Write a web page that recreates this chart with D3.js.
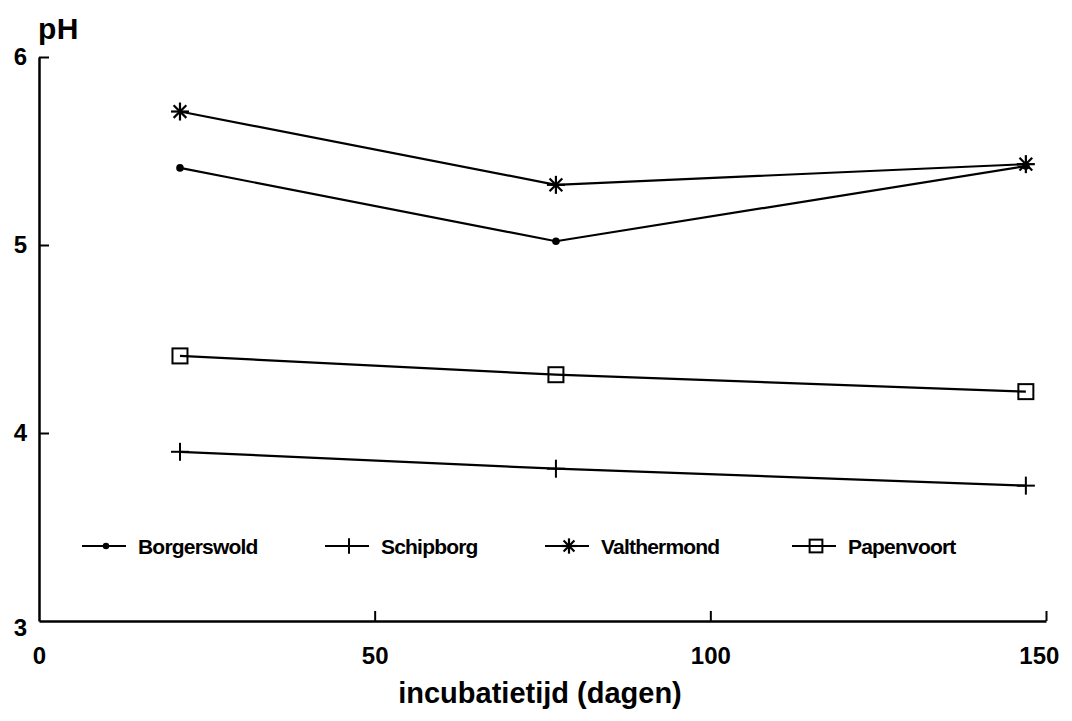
<!DOCTYPE html>
<html>
<head>
<meta charset="utf-8">
<script src="https://cdn.jsdelivr.net/npm/d3@7"></script>
<style>
  body { margin: 0; background: #fff; }
  text { font-family: "Liberation Sans", Arial, sans-serif; font-weight: bold; fill: #000; }
</style>
</head>
<body>
<div id="chart"></div>
<script>
// incubation days and pH per site
const days = [21, 77, 147];
const borgerswold = [5.41, 5.02, 5.42];
const schipborg = [3.90, 3.81, 3.72];
const valthermond = [5.71, 5.32, 5.43];
const papenvoort = [4.41, 4.31, 4.22];

const seriesNames = ['Borgerswold', 'Schipborg', 'Valthermond', 'Papenvoort'];
const seriesValues = [borgerswold, schipborg, valthermond, papenvoort];
const markerTypes = ['dot', 'plus', 'star', 'box'];

const xTicks = [0, 50, 100, 150];
const yTicks = [3, 4, 5, 6];

const config = {
  width: 1072,
  height: 721,
  margin: { top: 57, right: 26, bottom: 100, left: 39 },
};

const width = config.width - config.margin.left - config.margin.right;
const height = config.height - config.margin.top - config.margin.bottom;

const svg = d3.select('#chart').append('svg')
  .attr('width', config.width)
  .attr('height', config.height);

svg.append('rect')
  .attr('width', config.width)
  .attr('height', config.height)
  .attr('fill', '#fff');

const chart = svg.append('g')
  .attr('transform', `translate(${config.margin.left},${config.margin.top})`);

const xScale = d3.scaleLinear().domain([0, 150]).range([0, width]);
const yScale = d3.scaleLinear().domain([3, 6]).range([height, 0]);

// axes with ticks pointing inward
const xAxis = d3.axisBottom(xScale)
  .tickValues(xTicks)
  .tickFormat(d3.format('d'))
  .tickSizeInner(-10)
  .tickSizeOuter(0)
  .tickPadding(26);

const yAxis = d3.axisLeft(yScale)
  .tickValues(yTicks)
  .tickFormat(d3.format('d'))
  .tickSizeInner(-10)
  .tickSizeOuter(0)
  .tickPadding(12);

const xAxisG = chart.append('g')
  .attr('transform', `translate(0,${height})`)
  .call(xAxis);

const yAxisG = chart.append('g').call(yAxis);

[xAxisG, yAxisG].forEach((g) => {
  g.select('.domain').attr('stroke', '#000').attr('stroke-width', 2.5);
  g.selectAll('.tick line').attr('stroke', '#000').attr('stroke-width', 2);
  g.selectAll('.tick text')
    .attr('font-family', '"Liberation Sans", Arial, sans-serif')
    .attr('font-weight', 'bold')
    .attr('font-size', 24)
    .attr('fill', '#000');
});
xAxisG.select('.tick line').remove();
xAxisG.selectAll('.tick')
  .filter((d) => d === 150)
  .select('text').attr('dx', '-0.3em');
yAxisG.selectAll('.tick')
  .filter((d) => d === 3)
  .select('line').remove();
yAxisG.selectAll('.tick')
  .filter((d) => d === 3)
  .select('text').attr('dy', '0.6em');

// axis titles
svg.append('text')
  .attr('x', 38)
  .attr('y', 39)
  .attr('font-size', 30)
  .attr('letter-spacing', 0.5)
  .text('pH');

svg.append('text')
  .attr('x', 540)
  .attr('y', 703)
  .attr('text-anchor', 'middle')
  .attr('font-size', 29)
  .text('incubatietijd (dagen)');

// marker drawing
function drawMarker(g, type, s) {
  if (type === 'dot') {
    g.append('circle').attr('r', 3.8 * s).attr('fill', '#000');
  } else if (type === 'plus') {
    g.append('line')
      .attr('x1', 0).attr('x2', 0)
      .attr('y1', -9 * s).attr('y2', 9 * s)
      .attr('stroke', '#000').attr('stroke-width', 2);
    g.append('line')
      .attr('x1', -9 * s).attr('x2', 9 * s)
      .attr('y1', 0).attr('y2', 0)
      .attr('stroke', '#000').attr('stroke-width', 2);
  } else if (type === 'star') {
    const r = 9 * s;
    [0, 45, 90, 135].forEach((a) => {
      const rad = (a * Math.PI) / 180;
      g.append('line')
        .attr('x1', -r * Math.cos(rad)).attr('y1', -r * Math.sin(rad))
        .attr('x2', r * Math.cos(rad)).attr('y2', r * Math.sin(rad))
        .attr('stroke', '#000').attr('stroke-width', 2.2);
    });
  } else if (type === 'box') {
    const h = 7.5 * s;
    g.append('rect')
      .attr('x', -h).attr('y', -h)
      .attr('width', 2 * h).attr('height', 2 * h)
      .attr('fill', 'none')
      .attr('stroke', '#000').attr('stroke-width', 2);
  }
}

const line = d3.line()
  .x((d, i) => xScale(days[i]))
  .y((d) => yScale(d));

seriesValues.forEach((vals, si) => {
  chart.append('path')
    .datum(vals)
    .attr('d', line)
    .attr('fill', 'none')
    .attr('stroke', '#000')
    .attr('stroke-width', 2.2);

  vals.forEach((v, i) => {
    const g = chart.append('g')
      .attr('transform', `translate(${xScale(days[i])},${yScale(v)})`);
    drawMarker(g, markerTypes[si], 1);
  });
});

// legend
const legendX = [82, 325, 545, 792];
const legendY = 546;
const legend = svg.append('g');

seriesNames.forEach((name, i) => {
  const item = legend.append('g')
    .attr('transform', `translate(${legendX[i]},${legendY})`);
  item.append('line')
    .attr('x1', 0).attr('x2', 44)
    .attr('y1', 0).attr('y2', 0)
    .attr('stroke', '#000').attr('stroke-width', 2);
  const m = item.append('g').attr('transform', 'translate(24,0)');
  drawMarker(m, markerTypes[i], 0.85);
  item.append('text')
    .attr('x', 56)
    .attr('y', 0)
    .attr('dy', '0.36em')
    .attr('font-size', 21)
    .attr('letter-spacing', -0.8)
    .text(name);
});
</script>
</body>
</html>
